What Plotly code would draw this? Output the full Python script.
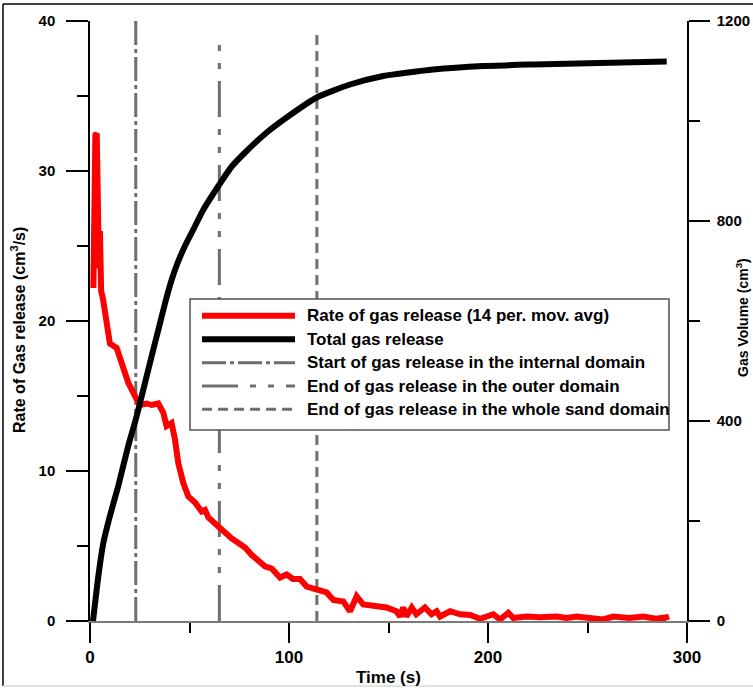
import plotly.graph_objects as go

# ---------------- data ----------------
rate_t = [1.7, 1.9, 2.3, 2.7, 3.4, 4.0, 4.5, 5.0, 5.6, 6.5, 8.4, 10.0, 13.4, 14.2, 16.7, 19.2,
          22.6, 25.1, 28.5, 31.0, 34.3, 36.8, 38.5, 41.0, 42.7, 44.4, 46.9, 49.4, 52.8, 56.1,
          57.8, 59.5, 64.5, 71.2, 77.9, 81.3, 87.9, 91.3, 95.5, 98.8, 102.0, 105.5, 108.9,
          113.9, 118.9, 122.3, 127.3, 130.7, 134.0, 137.3, 144.0, 149.0, 154.0, 155.8, 157.4,
          159.0, 161.7, 164.0, 168.3, 171.6, 174.2, 175.9, 181.0, 186.0, 191.0, 196.0, 202.7,
          206.0, 210.2, 212.7, 219.4, 226.0, 234.5, 239.5, 244.5, 252.8, 257.8, 263.0, 271.0,
          278.0, 284.5, 289.5, 290.0]
rate_v = [22.2, 27.0, 23.0, 32.4, 32.5, 28.0, 23.5, 26.0, 22.0, 21.5, 19.9, 18.5, 18.2, 17.9,
          16.8, 15.9, 15.0, 14.4, 14.5, 14.4, 14.5, 13.9, 13.0, 13.2, 12.1, 10.5, 9.2, 8.3,
          7.9, 7.3, 7.4, 6.9, 6.3, 5.5, 4.9, 4.4, 3.65, 3.5, 2.9, 3.1, 2.8, 2.8, 2.3, 2.1,
          1.9, 1.4, 1.3, 0.65, 1.65, 1.1, 1.0, 0.9, 0.65, 0.3, 0.9, 0.3, 0.9, 0.45, 0.9,
          0.45, 0.65, 0.3, 0.65, 0.45, 0.4, 0.15, 0.45, 0.1, 0.55, 0.2, 0.3, 0.25, 0.3, 0.2,
          0.3, 0.2, 0.1, 0.3, 0.2, 0.3, 0.15, 0.25, 0.05]

total_t = [1.5, 4.2, 6.7, 10.0, 14.2, 19.2, 23.0, 26.8, 31.0, 35.2, 38.0, 41.0, 44.0, 47.7,
           52.8, 57.0, 65.0, 71.0, 78.7, 88.8, 98.8, 113.9, 130.7, 147.4, 172.5, 197.6,
           222.8, 256.0, 289.8]
total_v = [0, 90, 156, 210, 270, 350, 403, 463, 530, 596, 640, 682, 716, 750, 790, 823, 873,
           908, 940, 977, 1007, 1047, 1073, 1090, 1103, 1110, 1113, 1116, 1119]

vline_x = [23, 65, 114]
vline_top = [40.0, 38.8, 39.2]

legend_labels = ["Rate of gas release (14 per. mov. avg)",
                 "Total gas release",
                 "Start of gas release in the internal domain",
                 "End of gas release in the outer domain",
                 "End of gas release in the whole sand domain"]

x_ticks = [0, 100, 200, 300]
y_ticks = [0, 10, 20, 30, 40]
y2_ticks = [0, 400, 800, 1200]

# ---------------- styles ----------------
GRAY = "#6e6e6e"
dashes = ["24px,4px,4px,4px", "36px,12px,6px,12px,6px,12px", "10px,6px"]
styles = [dict(color="red", width=6, dash="solid"),
          dict(color="black", width=6, dash="solid")] + \
         [dict(color=GRAY, width=3, dash=d) for d in dashes]

FONT = "Liberation Sans, Arial, sans-serif"
NARROW = "Liberation Sans Narrow, Arial Narrow, Liberation Sans, Arial, sans-serif"

fig = go.Figure()

for x, top, d in zip(vline_x, vline_top, dashes):
    fig.add_trace(go.Scatter(x=[x, x], y=[0, top], mode="lines",
                             line=dict(color=GRAY, width=3, dash=d),
                             showlegend=False, hoverinfo="skip"))

fig.add_trace(go.Scatter(x=rate_t, y=rate_v, mode="lines",
                         line=dict(color="red", width=6), showlegend=False))
fig.add_trace(go.Scatter(x=total_t, y=total_v, mode="lines", yaxis="y2",
                         line=dict(color="black", width=6, shape="spline", smoothing=0.5),
                         showlegend=False))

L, R, T, B = 90, 66, 21, 69
W, H = 753, 690
PW, PH = W - L - R, H - T - B


def px(xp):
    return (xp - L) / PW


def py(yp):
    return (H - B - yp) / PH


shapes = []
annotations = []

# outer frame
shapes.append(dict(type="line", xref="paper", yref="paper", x0=px(3), x1=px(753),
                   y0=py(4), y1=py(4), line=dict(color="black", width=1.5)))
shapes.append(dict(type="line", xref="paper", yref="paper", x0=px(3), x1=px(3),
                   y0=py(4), y1=py(686), line=dict(color="black", width=1.5)))
shapes.append(dict(type="line", xref="paper", yref="paper", x0=px(3), x1=px(753),
                   y0=py(686), y1=py(686), line=dict(color="#d8d8d8", width=1.5)))

# manual legend
shapes.append(dict(type="rect", xref="paper", yref="paper", x0=px(190), x1=px(669),
                   y0=py(430), y1=py(299), fillcolor="white",
                   line=dict(color="#505050", width=1.5), layer="above"))
rows = [315.7, 339.3, 362.7, 386.0, 409.3]
for lab, st, ry in zip(legend_labels, styles, rows):
    shapes.append(dict(type="line", xref="paper", yref="paper", x0=px(202), x1=px(295),
                       y0=py(ry), y1=py(ry), line=st, layer="above"))
    annotations.append(dict(xref="paper", yref="paper", x=px(305), y=py(ry), text=lab,
                            showarrow=False, xanchor="left", yanchor="middle",
                            font=dict(family=FONT, size=17, color="black", weight="bold")))

# axis titles
annotations.append(dict(xref="paper", yref="paper", x=px(18), y=py(330),
                        text="Rate of Gas release (cm<sup>3</sup>/s)", textangle=-90,
                        showarrow=False, xanchor="center", yanchor="middle",
                        font=dict(family=FONT, size=16, color="black", weight="bold")))
annotations.append(dict(xref="paper", yref="paper", x=px(742), y=py(318),
                        text="Gas Volume (cm<sup>3</sup>)", textangle=-90,
                        showarrow=False, xanchor="center", yanchor="middle",
                        font=dict(family=FONT, size=14, color="black", weight="bold")))
annotations.append(dict(xref="paper", yref="paper", x=px(388), y=py(677),
                        text="Time (s)", showarrow=False, xanchor="center", yanchor="middle",
                        font=dict(family=NARROW, size=17, color="black", weight="bold")))

fig.update_layout(
    width=W, height=H,
    margin=dict(l=L, r=R, t=T, b=B, pad=0, autoexpand=False),
    paper_bgcolor="white", plot_bgcolor="white",
    showlegend=False,
    shapes=shapes, annotations=annotations,
    xaxis=dict(range=[0, 300], tickvals=x_ticks, ticks="outside", ticklen=20, tickwidth=2,
               tickcolor="black", showline=True, linecolor="#7a7a7a", linewidth=1.5,
               showgrid=False, zeroline=False, ticklabelstandoff=0, automargin=False,
               minor=dict(dtick=50, ticks="outside", ticklen=10, tickwidth=2, tickcolor="black"),
               tickfont=dict(family=NARROW, size=17, color="black", weight="bold")),
    yaxis=dict(range=[0, 40], tickvals=y_ticks, ticks="outside", ticklen=22, tickwidth=2,
               tickcolor="black", showline=True, linecolor="black", linewidth=1.5,
               showgrid=False, zeroline=False, ticklabelstandoff=8, automargin=False,
               minor=dict(dtick=5, ticks="outside", ticklen=11, tickwidth=2, tickcolor="black"),
               tickfont=dict(family=FONT, size=15, color="black", weight="bold")),
    yaxis2=dict(range=[0, 1200], tickvals=y2_ticks, ticks="outside", ticklen=21, tickwidth=2,
                tickcolor="black", showline=True, linecolor="black", linewidth=1.5,
                showgrid=False, zeroline=False, overlaying="y", side="right",
                ticklabelstandoff=4, automargin=False,
                minor=dict(dtick=200, ticks="outside", ticklen=11, tickwidth=2, tickcolor="black"),
                tickfont=dict(family=FONT, size=15, color="black", weight="bold")),
)

fig.write_html("out.html")
